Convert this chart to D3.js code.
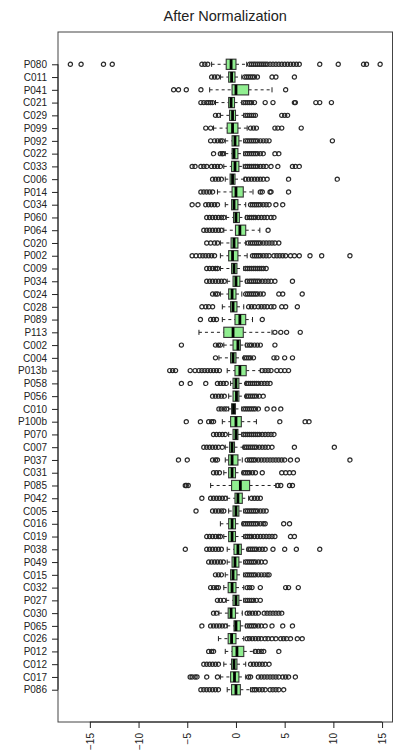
<!DOCTYPE html>
<html>
<head>
<meta charset="utf-8">
<script src="https://cdn.jsdelivr.net/npm/d3@7"></script>
<style>
  body { margin: 0; background: #fff; }
  svg { display: block; font-family: "Liberation Sans", Arial, sans-serif; }
</style>
</head>
<body>
<div id="chart"></div>
<script>
// rows of the boxplot, top to bottom
const categories = ["P080","C011","P041","C021","C029","P099","P092","C022","C033","C006",
  "P014","C034","P060","P064","C020","P002","C009","P034","C024","C028",
  "P089","P113","C002","C004","P013b","P058","P056","C010","P100b","P070",
  "C007","P037","C031","P085","P042","C005","C016","C019","P038","P049",
  "C015","C032","P027","C030","P065","C026","P012","C012","C017","P086"];

const lowerWhisker = [-2.5,-1.6,-2.7,-2.1,-1.6,-2.3,-1.1,-1.1,-1.25,-1.1,
  -1.9,-1.1,-1.0,-1.25,-1.6,-1.6,-1.6,-0.9,-1.6,-1.4,
  -1.4,-3.8,-1.25,-1.75,-0.9,-0.55,-0.75,-0.75,-1.4,-0.75,
  -1.1,-1.1,-1.25,-2.6,-0.9,-0.75,-1.6,-1.25,-0.9,-0.9,
  -1.1,-1.25,-1.0,-1.75,-0.9,-1.8,-1.1,-1.25,-1.6,-0.9];
const q1 = [-1.0,-0.75,-0.4,-0.75,-0.65,-0.9,-0.4,-0.4,-0.45,-0.6,
  -0.4,-0.45,-0.25,-0.05,-0.5,-0.75,-0.45,-0.3,-0.75,-0.55,
  -0.1,-1.25,-0.3,-0.55,-0.1,-0.3,-0.3,-0.45,-0.55,-0.3,
  -0.65,-0.75,-0.75,-0.45,-0.1,-0.3,-0.75,-0.75,-0.2,-0.4,
  -0.55,-0.8,-0.3,-0.8,-0.2,-0.8,-0.4,-0.45,-0.55,-0.45];
const median = [-0.5,-0.45,0.0,-0.5,-0.35,-0.35,-0.1,-0.2,-0.1,-0.35,
  0.0,-0.2,0.0,0.4,-0.2,-0.35,-0.2,0.0,-0.4,-0.3,
  0.4,-0.3,0.2,-0.3,0.4,0.0,0.05,-0.25,0.0,0.0,
  -0.4,-0.4,-0.4,0.45,0.2,0.0,-0.4,-0.4,0.2,-0.1,
  -0.3,-0.4,0.0,-0.5,0.0,-0.45,0.1,-0.2,-0.15,0.0];
const q3 = [0.0,-0.1,1.3,-0.15,-0.05,0.2,0.3,0.2,0.3,-0.1,
  0.75,0.2,0.35,1.0,0.2,0.2,0.1,0.4,0.0,0.1,
  1.0,0.75,0.45,0.0,1.05,0.3,0.3,-0.05,0.55,0.2,
  -0.15,0.2,-0.05,1.4,0.65,0.3,-0.05,-0.05,0.55,0.3,
  0.1,0.0,0.3,-0.05,0.45,0.0,0.8,0.1,0.3,0.45];
const upperWhisker = [1.1,0.6,3.7,0.6,0.8,1.15,0.8,0.8,0.75,0.85,
  1.75,1.0,1.0,2.45,1.0,1.15,0.8,1.0,0.6,0.8,
  1.7,3.7,1.0,0.8,2.5,1.0,1.0,0.6,2.1,0.6,
  0.75,0.65,0.65,4.1,1.3,0.8,0.65,0.8,1.15,0.8,
  0.8,0.8,0.8,0.65,1.0,0.8,1.85,1.0,1.0,1.5];

const outliers = [
  [-17.0,-15.9,-13.6,-12.7,-3.5,-3.2,-2.9,1.4,1.6,1.8,2.0,2.2,2.4,2.6,2.8,3.0,3.2,3.5,3.8,4.1,4.4,4.7,5.0,5.3,5.6,5.9,6.2,6.5,8.6,10.5,13.1,13.4,14.8],
  [-2.5,-2.2,-1.9,0.9,1.1,1.3,1.5,1.7,1.9,2.2,3.7,4.1,6.0],
  [-6.4,-5.9,-5.1,-3.6,5.1],
  [-3.6,-3.3,-3.0,-2.8,-2.6,-2.4,0.8,1.0,1.2,1.4,1.6,1.9,3.0,3.8,6.0,6.1,8.2,8.6,9.8],
  [-2.1,-1.8,1.0,1.2,1.4,1.6,1.8,2.0,4.7,5.0,5.3],
  [-3.1,-2.6,1.5,1.8,2.1,4.0,4.3,4.7,6.7],
  [-2.6,-2.2,-1.9,-1.6,-1.4,1.0,1.2,1.4,1.6,1.8,2.0,2.2,2.5,2.8,3.1,3.4,9.9],
  [-2.3,-1.6,-1.4,-1.3,1.0,1.2,1.4,1.6,1.8,2.0,2.2,2.5,2.8,4.0,4.4],
  [-4.5,-4.2,-3.6,-3.3,-3.0,-2.5,-2.2,-1.9,-1.6,1.0,1.2,1.4,1.6,1.8,2.0,2.2,2.5,2.8,3.1,3.6,4.3,5.8,6.1,6.5],
  [-2.4,-2.1,-1.8,-1.5,1.0,1.3,1.6,1.9,2.2,2.5,2.8,3.2,5.4,10.4],
  [-3.6,-3.3,-3.0,-2.7,-2.4,2.5,2.7,3.5,3.6,5.4],
  [-4.5,-3.9,-3.1,-2.8,-2.5,-2.2,-1.9,1.5,1.7,1.9,2.1,2.3,2.5,2.8,3.1,3.4,4.1,4.8],
  [-3.0,-2.7,-2.4,-2.1,-1.8,-1.5,-1.25,1.15,1.4,1.6,1.8,2.0,2.3,2.6,2.9,3.2,3.6,3.9],
  [-3.3,-3.0,-2.7,-2.4,-2.1,-1.8,-1.5,3.3],
  [-3.0,-2.6,-2.2,-1.9,1.25,1.5,1.7,1.9,2.1,2.3,2.5,2.8,3.1,3.4,3.7,4.0,4.4],
  [-4.5,-4.1,-3.7,-3.4,-3.1,-2.8,-2.5,-2.2,1.7,1.9,2.1,2.3,2.5,2.8,3.1,3.4,3.9,4.2,4.5,4.8,5.1,5.6,6.0,6.5,7.6,8.8,11.7],
  [-3.0,-2.7,-2.4,-2.1,-1.9,1.0,1.2,1.4,1.6,1.8,2.0,2.2,2.4,2.6,2.8,3.1],
  [-3.0,-2.7,-2.4,-2.1,-1.8,-1.5,-1.2,1.15,1.4,1.6,1.8,2.0,2.2,2.4,2.7,3.0,3.3,3.6,4.0,5.8],
  [-2.4,-2.1,-1.9,1.0,1.2,1.4,1.6,1.8,2.0,2.2,2.5,2.8,4.4,4.8,6.8],
  [-3.5,-3.1,-2.8,-2.4,1.3,1.6,1.9,2.3,2.6,2.9,3.2,3.6,3.9,4.7,5.1,6.3],
  [-3.65,-2.6,-2.3,-2.0,2.7],
  [4.0,4.6,5.2,6.6],
  [-5.6,-2.1,-1.8,-1.6,1.15,1.4,1.6,1.9,2.2,2.5,4.0],
  [-2.1,0.9,1.1,1.3,1.5,1.8,3.9,4.2,5.0,5.8],
  [-6.8,-6.5,-6.2,-4.7,-4.2,-3.8,-3.5,-3.2,-2.9,-2.6,-2.3,-2.0,-1.7,2.7,3.0,3.3,3.6,4.2,4.6,5.0,5.4],
  [-5.6,-4.7,-3.1,-1.9,-1.6,-1.3,-1.0,1.1,1.3,1.5,1.7,1.9,2.1,2.3,2.6,2.9,3.2,3.5],
  [-2.4,-2.1,-1.8,-1.5,-1.2,1.1,1.3,1.5,1.7,1.9,2.1,2.4,2.8],
  [-1.75,-1.5,-1.2,-0.95,0.8,1.0,1.2,1.4,1.6,1.8,2.0,2.3,3.2,3.9,4.6],
  [-5.1,-3.65,-2.8,-2.5,-2.3,4.5,7.1,7.5],
  [-2.3,-2.0,-1.7,-1.4,-1.1,0.8,1.0,1.2,1.4,1.6,1.8,2.0,2.2,2.4,2.7,3.0,3.3,3.6,3.9],
  [-3.3,-3.0,-2.7,-2.4,-2.1,-1.8,-1.4,0.9,1.1,1.3,1.5,1.7,1.9,2.1,2.4,2.7,3.0,3.3,3.7,6.0,10.1],
  [-5.9,-5.0,-2.4,-2.1,-1.9,1.15,1.4,1.6,1.8,2.0,2.3,2.6,2.9,3.2,3.5,3.8,4.1,4.4,4.7,5.0,5.6,6.3,11.7],
  [-2.3,-2.0,-1.7,0.8,1.0,1.2,1.4,1.7,2.0,2.7,4.7,5.1,5.5,5.9],
  [-5.2,-5.1,-4.9,4.3,4.6,5.5,5.8],
  [-3.5,-2.6,-2.3,-2.0,-1.7,-1.4,-1.1,1.6,1.9,2.2,2.5],
  [-4.1,-2.4,-2.1,-1.8,-1.5,-1.25,1.0,1.2,1.4,1.6,1.8,2.0,2.2,2.5,2.8,3.1],
  [0.8,1.0,1.2,1.4,1.6,1.8,2.0,2.2,2.5,2.8,3.0,4.9,5.5],
  [-3.0,-2.7,-2.4,-2.1,-1.8,-1.6,1.0,1.2,1.4,1.6,1.9,2.2,2.5,2.8,3.1,3.4,3.7,4.0,5.6,6.0],
  [-5.2,-3.0,-2.7,-2.4,-2.1,-1.8,-1.5,1.3,1.5,1.7,1.9,2.1,2.4,2.7,3.0,3.8,5.0,6.2,8.6],
  [-2.8,-2.5,-2.2,-1.9,-1.6,-1.3,1.0,1.2,1.4,1.6,1.8,2.0,2.3,2.6,3.0],
  [-2.1,-1.8,-1.5,1.0,1.2,1.4,1.6,1.8,2.0,2.3,2.6,2.9,3.2,3.4],
  [-2.6,-2.3,-2.0,-1.8,1.15,1.4,1.65,2.5,5.1,5.4,6.4],
  [-1.9,-1.6,-1.25,1.0,1.2,1.4,1.6,1.8,2.1,2.5],
  [-2.3,-2.0,1.15,1.4,1.7,2.0,2.3,2.9,3.2,3.5,3.8,4.1,4.4,4.7],
  [-3.5,-2.6,-2.3,-2.0,-1.7,-1.4,-1.1,1.15,1.4,1.6,1.8,2.0,2.3,2.6,3.0,3.7,4.8,5.8],
  [1.15,1.4,1.7,2.0,2.3,2.6,3.0,3.3,3.7,4.1,4.6,4.9,5.2,5.6,6.3,6.8],
  [-2.8,-2.5,-2.3,2.0,2.3,2.6,2.85,4.4],
  [-3.3,-3.0,-2.7,-2.4,-2.1,-1.8,1.5,1.8,2.1,2.4,2.7,3.0,3.4],
  [-4.7,-4.5,-4.2,-4.0,-3.0,-1.9,1.3,1.5,2.3,2.6,2.9,3.2,3.5,3.8,4.1,4.4,4.8,5.1,5.4,6.1],
  [-3.6,-3.3,-3.0,-2.7,-2.4,-2.1,-1.8,1.7,1.9,2.1,2.4,2.7,3.0,3.5,3.8,4.1,4.4,4.9]
];

const xTicks = [-15, -10, -5, 0, 5, 10, 15];
const title = "After Normalization";

const W = 394, H = 755;
const plot = { left: 58, right: 392.5, top: 32, bottom: 722 };

const svg = d3.select("#chart").append("svg")
  .attr("width", W)
  .attr("height", H);

const x = d3.scaleLinear()
  .domain([-18.27, 16.07])
  .range([plot.left, plot.right]);

const y = d3.scalePoint()
  .domain(categories)
  .range([plot.top, plot.bottom])
  .padding(2.53);

const boxH = y.step() * 0.8;
const stapleH = boxH / 2;

// title
svg.append("text")
  .attr("x", (plot.left + plot.right) / 2)
  .attr("y", 21)
  .attr("text-anchor", "middle")
  .attr("font-size", 14.5)
  .attr("fill", "#222")
  .text(title);

const rows = categories.map((c, i) => ({
  cat: c, lo: lowerWhisker[i], q1: q1[i], med: median[i], q3: q3[i], hi: upperWhisker[i], out: outliers[i]
}));

const g = svg.append("g");
const row = g.selectAll("g.row").data(rows).enter()
  .append("g").attr("class", "row")
  .attr("transform", d => "translate(0," + y(d.cat) + ")");

// whiskers (dashed)
row.append("line")
  .attr("x1", d => x(d.lo)).attr("x2", d => x(d.q1))
  .attr("stroke", "#222").attr("stroke-width", 1).attr("stroke-dasharray", "3,3");
row.append("line")
  .attr("x1", d => x(d.q3)).attr("x2", d => x(d.hi))
  .attr("stroke", "#222").attr("stroke-width", 1).attr("stroke-dasharray", "3,3");
// staples
row.append("line")
  .attr("x1", d => x(d.lo)).attr("x2", d => x(d.lo))
  .attr("y1", -stapleH / 2).attr("y2", stapleH / 2)
  .attr("stroke", "#222");
row.append("line")
  .attr("x1", d => x(d.hi)).attr("x2", d => x(d.hi))
  .attr("y1", -stapleH / 2).attr("y2", stapleH / 2)
  .attr("stroke", "#222");
// boxes
row.append("rect")
  .attr("x", d => x(d.q1))
  .attr("width", d => x(d.q3) - x(d.q1))
  .attr("y", -boxH / 2)
  .attr("height", boxH)
  .attr("fill", "#90ee90")
  .attr("stroke", "#333")
  .attr("stroke-width", 1.1);
// medians
row.append("line")
  .attr("x1", d => x(d.med)).attr("x2", d => x(d.med))
  .attr("y1", -boxH / 2).attr("y2", boxH / 2)
  .attr("stroke", "#000").attr("stroke-width", 2.8);
// outliers
row.selectAll("circle").data(d => d.out).enter()
  .append("circle")
  .attr("cx", v => x(v))
  .attr("cy", 0)
  .attr("r", 2.1)
  .attr("fill", "none")
  .attr("stroke", "#2a2a2a")
  .attr("stroke-width", 1.2);

// frame
svg.append("rect")
  .attr("x", plot.left).attr("y", plot.top)
  .attr("width", plot.right - plot.left)
  .attr("height", plot.bottom - plot.top)
  .attr("fill", "none")
  .attr("stroke", "#444")
  .attr("stroke-width", 1);

// y axis
const yAxis = svg.append("g")
  .attr("transform", "translate(" + plot.left + ",0)")
  .call(d3.axisLeft(y).tickSize(6).tickPadding(5).tickSizeOuter(0));
yAxis.select(".domain")
  .attr("d", "M0," + y(categories[0]) + "V" + y(categories[categories.length - 1]))
  .attr("stroke", "#222");
yAxis.selectAll(".tick line").attr("stroke", "#222");
yAxis.selectAll("text")
  .attr("font-size", 10)
  .attr("font-family", "Liberation Sans, Arial, sans-serif")
  .attr("fill", "#222");

// x axis
const xAxis = svg.append("g")
  .attr("transform", "translate(0," + plot.bottom + ")")
  .call(d3.axisBottom(x).tickValues(xTicks).tickSize(6).tickSizeOuter(0));
xAxis.select(".domain")
  .attr("d", "M" + x(xTicks[0]) + ",0H" + x(xTicks[xTicks.length - 1]))
  .attr("stroke", "#222");
xAxis.selectAll(".tick line").attr("stroke", "#222");
xAxis.selectAll("text")
  .attr("font-size", 10)
  .attr("font-family", "Liberation Sans, Arial, sans-serif")
  .attr("fill", "#222")
  .attr("y", 0)
  .attr("x", -11)
  .attr("dy", "0.35em")
  .attr("transform", "rotate(-90)")
  .style("text-anchor", "end");
</script>
</body>
</html>
